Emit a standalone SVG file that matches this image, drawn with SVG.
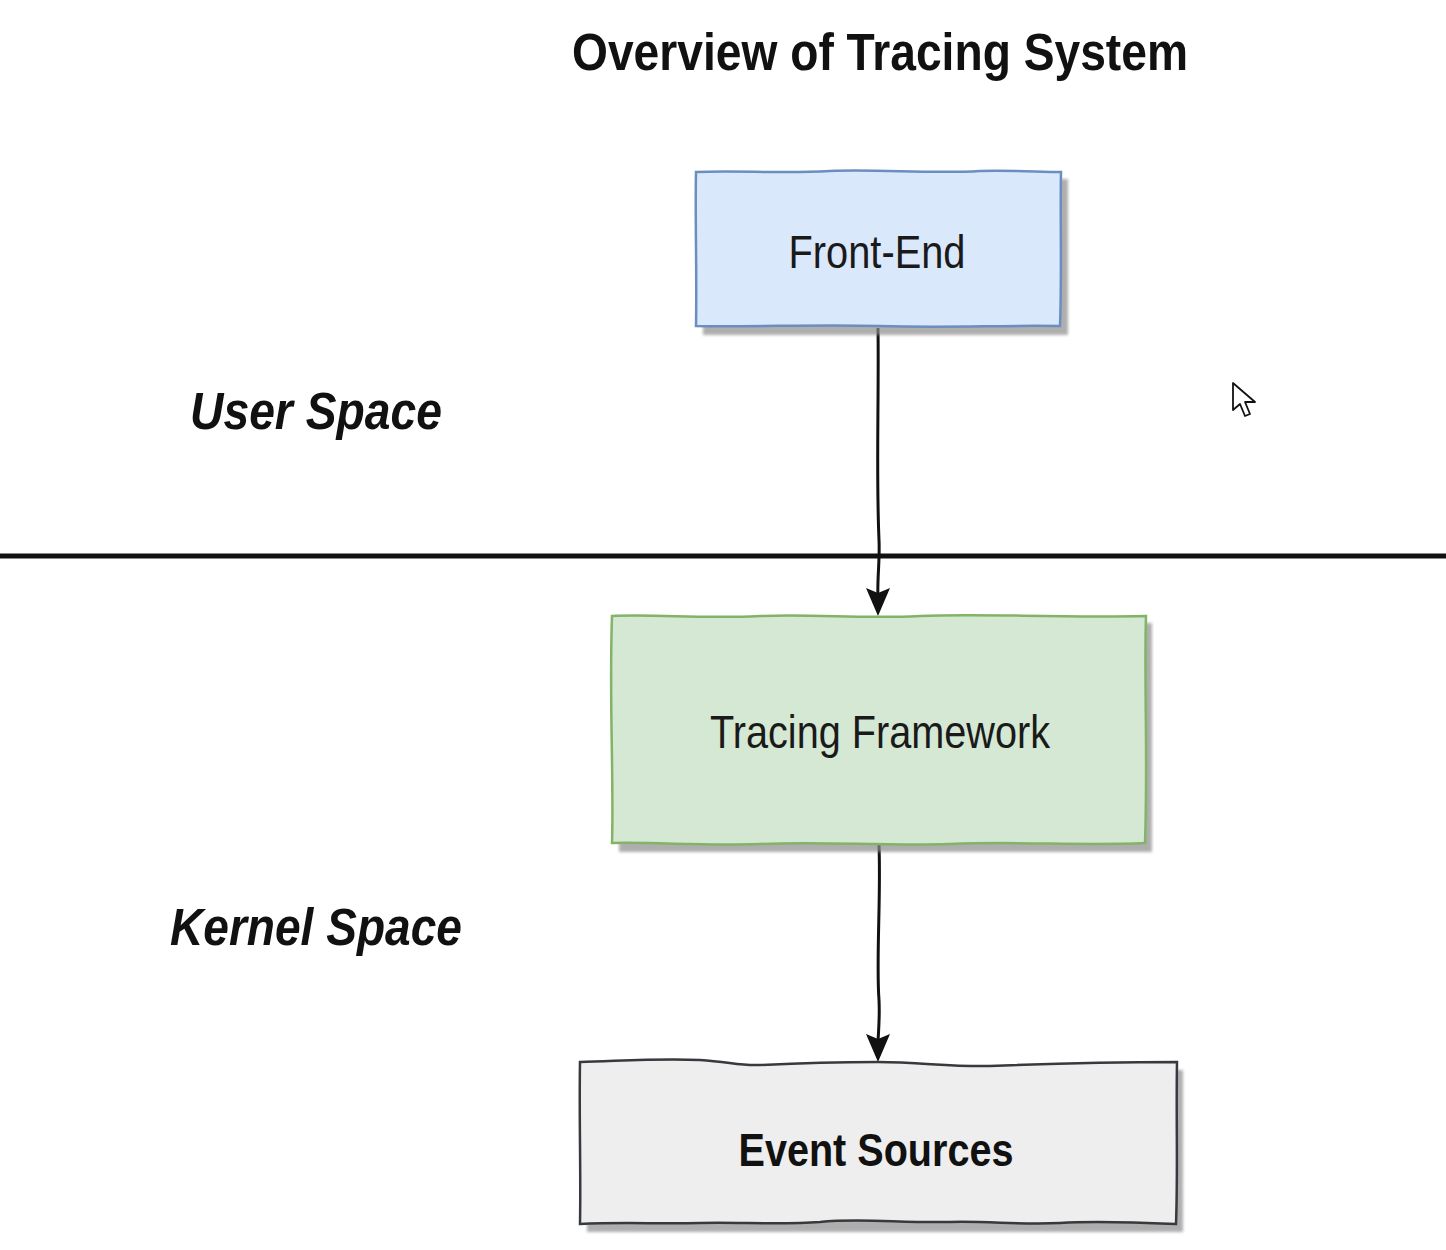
<svg xmlns="http://www.w3.org/2000/svg" width="1446" height="1250" viewBox="0 0 1446 1250">
  <defs>
    <style>
      .title { font-family: "Liberation Sans", Arial, sans-serif; font-weight: bold; font-size: 51px; fill: #111; }
      .zone { font-family: "Liberation Sans", Arial, sans-serif; font-weight: bold; font-style: italic; font-size: 51px; fill: #111; }
      .label { font-family: "Liberation Sans", Arial, sans-serif; font-size: 47px; fill: #1a1a1a; }
      .label-bold { font-family: "Liberation Sans", Arial, sans-serif; font-weight: bold; font-size: 47px; fill: #111; }
      .shadow { fill: #8c8c8c; opacity: 0.7; filter: url(#soft); }
      .edge { fill: none; stroke: #111; stroke-width: 3; }
      .head { fill: #111; }
    </style>
    <filter id="soft" x="-5%" y="-5%" width="110%" height="110%">
      <feGaussianBlur stdDeviation="1.8"/>
    </filter>
  </defs>

  <rect width="1446" height="1250" fill="#ffffff"/>

  <text class="title" x="880" y="70" text-anchor="middle" textLength="616" lengthAdjust="spacingAndGlyphs">Overview of Tracing System</text>

  <!-- user / kernel boundary -->
  <line x1="0" y1="556" x2="1446" y2="556" stroke="#111" stroke-width="5"/>

  <text class="zone" x="316" y="429" text-anchor="middle" textLength="252" lengthAdjust="spacingAndGlyphs">User Space</text>
  <text class="zone" x="316" y="945" text-anchor="middle" textLength="292" lengthAdjust="spacingAndGlyphs">Kernel Space</text>

  <!-- connectors -->
  <g id="connectors">
    <path class="edge" d="M878,328 C879,400 876,470 879,540 C880,560 877,580 878,598"/>
    <path class="head" d="M866,588 L878,616 L890,588 L878,593 Z"/>
    <path class="edge" d="M879,845 C881,900 876,960 879,1000 C880,1020 878,1035 878,1044"/>
    <path class="head" d="M866,1034 L878,1062 L890,1034 L878,1039 Z"/>
  </g>

  <g id="front-end">
    <path class="shadow" d="M703,179 L1068,179 L1068,335 L703,335 Z"/>
    <path d="M696,172 C740,170 780,174 830,171 C880,169 930,174 980,171 C1010,170 1040,172 1061,172 C1060,220 1062,270 1060,326 C1000,325 950,328 880,326 C820,324 760,327 696,326 C697,270 695,220 696,172 Z" fill="#dae8fc" stroke="#6c8ebf" stroke-width="2.5"/>
    <text class="label" x="877" y="268" text-anchor="middle" textLength="177" lengthAdjust="spacingAndGlyphs">Front-End</text>
  </g>

  <g id="tracing-framework">
    <path class="shadow" d="M619,623 L1152,623 L1152,852 L619,852 Z"/>
    <path d="M612,616 C660,614 700,619 760,616 C820,614 860,619 920,616 C980,613 1050,618 1146,616 C1144,680 1148,760 1145,843 C1080,846 1020,841 950,844 C880,846 820,841 760,844 C700,846 660,842 612,843 C614,780 609,700 612,616 Z" fill="#d5e8d4" stroke="#82b366" stroke-width="2.5"/>
    <text class="label" x="880" y="748" text-anchor="middle" textLength="340" lengthAdjust="spacingAndGlyphs">Tracing Framework</text>
  </g>

  <g id="event-sources">
    <path class="shadow" d="M587,1070 L1183,1070 L1183,1232 L587,1232 Z"/>
    <path d="M580,1062 C620,1061 660,1058 700,1060 C730,1062 740,1066 760,1065 C800,1063 840,1062 878,1062 C920,1062 950,1067 990,1066 C1040,1064 1100,1062 1177,1062 C1176,1120 1178,1170 1176,1224 C1130,1222 1090,1221 1060,1223 C1020,1225 990,1221 950,1222 C900,1223 860,1218 820,1222 C780,1225 740,1222 700,1223 C660,1224 620,1222 580,1224 C581,1170 579,1120 580,1062 Z" fill="#eeeeee" stroke="#36393d" stroke-width="2.5"/>
    <text class="label-bold" x="876" y="1166" text-anchor="middle" textLength="275" lengthAdjust="spacingAndGlyphs">Event Sources</text>
  </g>

  <!-- pointer -->
  <path d="M1233,383 L1233,410 L1240,404 L1245,416 L1250,414 L1245,402 L1255,402 Z" fill="#ffffff" stroke="#111" stroke-width="1.8" stroke-linejoin="round"/>
</svg>
